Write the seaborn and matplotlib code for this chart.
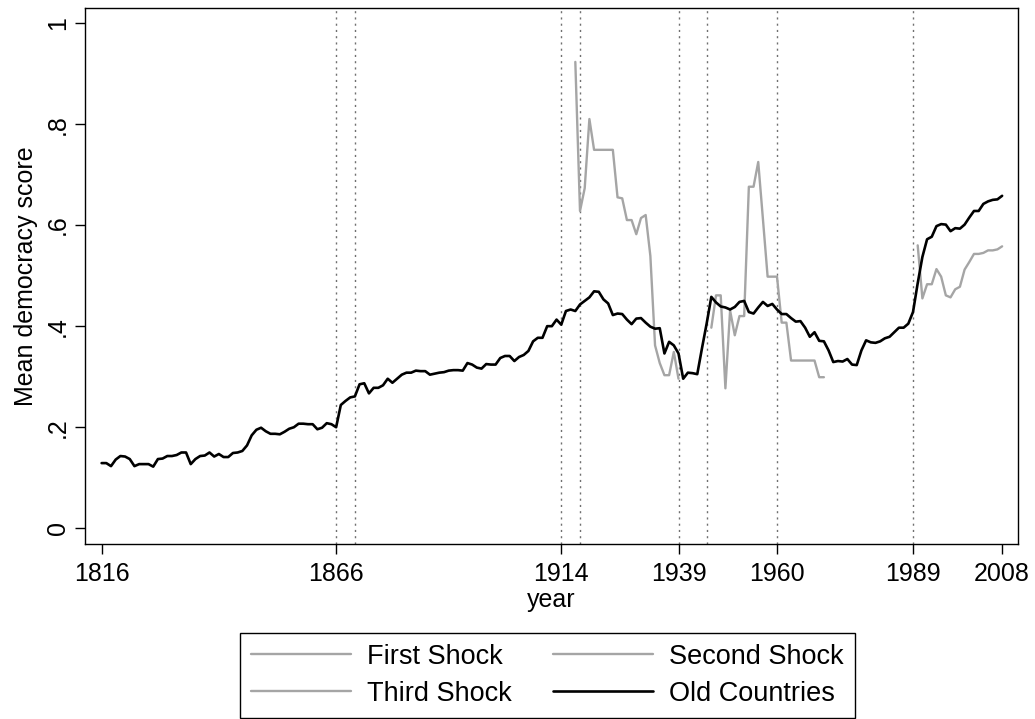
import numpy as np
import pandas as pd
import matplotlib
matplotlib.use("Agg")
import matplotlib.pyplot as plt
import seaborn as sns

# ---------------- data ----------------
old_years = list(range(1816, 2009))
old_values = [
    0.129, 0.129, 0.123, 0.136, 0.143, 0.142, 0.137, 0.123, 0.127, 0.127,  # 1816-1825
    0.127, 0.122, 0.137, 0.138, 0.143, 0.143, 0.145, 0.150, 0.150, 0.127,  # 1826-1835
    0.137, 0.143, 0.144, 0.150, 0.142, 0.147, 0.141, 0.141, 0.149, 0.150,  # 1836-1845
    0.153, 0.164, 0.184, 0.195, 0.199, 0.192, 0.187, 0.187, 0.186, 0.191,  # 1846-1855
    0.197, 0.200, 0.207, 0.207, 0.206, 0.206, 0.196, 0.199, 0.208, 0.206,  # 1856-1865
    0.200, 0.244, 0.252, 0.259, 0.261, 0.285, 0.287, 0.267, 0.278, 0.278,  # 1866-1875
    0.283, 0.296, 0.288, 0.296, 0.304, 0.308, 0.308, 0.312, 0.311, 0.311,  # 1876-1885
    0.304, 0.306, 0.308, 0.309, 0.312, 0.313, 0.313, 0.312, 0.327, 0.324,  # 1886-1895
    0.318, 0.316, 0.325, 0.324, 0.324, 0.337, 0.341, 0.341, 0.331, 0.339,  # 1896-1905
    0.343, 0.351, 0.370, 0.377, 0.377, 0.400, 0.400, 0.413, 0.403, 0.430,  # 1906-1915
    0.433, 0.430, 0.443, 0.450, 0.457, 0.469, 0.468, 0.453, 0.445, 0.422,  # 1916-1925
    0.425, 0.424, 0.413, 0.404, 0.415, 0.416, 0.407, 0.399, 0.395, 0.396,  # 1926-1935
    0.346, 0.369, 0.362, 0.346, 0.296, 0.308, 0.307, 0.305, 0.356, 0.405,  # 1936-1945
    0.458, 0.447, 0.439, 0.437, 0.433, 0.438, 0.448, 0.450, 0.428, 0.425,  # 1946-1955
    0.437, 0.448, 0.440, 0.444, 0.433, 0.424, 0.424, 0.416, 0.409, 0.410,  # 1956-1965
    0.397, 0.379, 0.388, 0.371, 0.370, 0.352, 0.329, 0.331, 0.330, 0.335,  # 1966-1975
    0.324, 0.323, 0.352, 0.372, 0.368, 0.367, 0.370, 0.376, 0.379, 0.388,  # 1976-1985
    0.397, 0.397, 0.405, 0.428, 0.485, 0.537, 0.572, 0.577, 0.598, 0.602,  # 1986-1995
    0.601, 0.588, 0.594, 0.593, 0.601, 0.615, 0.628, 0.628, 0.642, 0.647,  # 1996-2005
    0.650, 0.651, 0.658,                                                   # 2006-2008
]

first_years = list(range(1917, 1940))
first_values = [0.923, 0.628, 0.673, 0.810, 0.749, 0.749, 0.749, 0.749, 0.749,
                0.655, 0.653, 0.610, 0.610, 0.582, 0.614, 0.620, 0.539, 0.362,
                0.327, 0.303, 0.303, 0.349, 0.296]

second_years = list(range(1946, 1971))
second_values = [0.397, 0.461, 0.461, 0.277, 0.431, 0.382, 0.420, 0.420, 0.676,
                 0.676, 0.725, 0.612, 0.498, 0.498, 0.498, 0.407, 0.407, 0.332,
                 0.332, 0.332, 0.332, 0.332, 0.332, 0.299, 0.299]

third_years = list(range(1990, 2009))
third_values = [0.560, 0.455, 0.483, 0.483, 0.513, 0.498, 0.461, 0.457, 0.473,
                0.478, 0.512, 0.527, 0.543, 0.543, 0.545, 0.550, 0.550, 0.552, 0.558]

shock_lines = [1866, 1870, 1914, 1918, 1939, 1945, 1960, 1989]
xtick_years = [1816, 1866, 1914, 1939, 1960, 1989, 2008]
ytick_vals = [0, 0.2, 0.4, 0.6, 0.8, 1.0]
ytick_labels = ["0", ".2", ".4", ".6", ".8", "1"]

# ---------------- style ----------------
sns.set_theme(style="white")
plt.rcParams["font.family"] = ["Liberation Sans", "DejaVu Sans"]
plt.rcParams["text.color"] = "black"
plt.rcParams["axes.labelcolor"] = "black"
plt.rcParams["xtick.color"] = "black"
plt.rcParams["ytick.color"] = "black"

W, H = 1035, 719
fig = plt.figure(figsize=(W / 100, H / 100), dpi=100)
left, right, top, bottom = 84.5, 1018.3, 7.5, 544.3
ax = fig.add_axes([left / W, 1 - bottom / H, (right - left) / W, (bottom - top) / H])

grey = "#a5a5a5"
for x in shock_lines:
    ax.axvline(x, color="#707070", lw=1.0, ls=(0, (1.5, 3.0)), zorder=1)

df_first = pd.DataFrame({"year": first_years, "score": first_values})
df_second = pd.DataFrame({"year": second_years, "score": second_values})
df_third = pd.DataFrame({"year": third_years, "score": third_values})
df_old = pd.DataFrame({"year": old_years, "score": old_values})

sns.lineplot(data=df_first, x="year", y="score", ax=ax, color=grey, lw=1.7, label="First Shock", zorder=2)
sns.lineplot(data=df_second, x="year", y="score", ax=ax, color=grey, lw=1.7, label="Second Shock", zorder=2)
sns.lineplot(data=df_third, x="year", y="score", ax=ax, color=grey, lw=1.7, label="Third Shock", zorder=2)
sns.lineplot(data=df_old, x="year", y="score", ax=ax, color="black", lw=1.9, label="Old Countries", zorder=3)

ax.set_xlim(1812.35, 2011.45)
ax.set_ylim(-0.0317, 1.0307)
ax.set_xticks(xtick_years)
ax.set_xticklabels([str(y) for y in xtick_years], fontsize=18, color="black")
ax.set_yticks(ytick_vals)
ax.set_yticklabels(ytick_labels, fontsize=18, rotation=90, va="center", color="black")
ax.tick_params(axis="both", direction="out", length=7.5, width=1.0, color="black",
               bottom=True, left=True)
ax.tick_params(axis="x", pad=5)
ax.tick_params(axis="y", pad=3)
ax.set_xlabel("year", fontsize=18, labelpad=2, color="black")
ax.set_ylabel("Mean democracy score", fontsize=18, labelpad=6, color="black")
for s in ax.spines.values():
    s.set_visible(True)
    s.set_color("black")
    s.set_linewidth(1.0)

handles, labels = ax.get_legend_handles_labels()
ax.get_legend().remove()
hmap = dict(zip(labels, handles))
order = ["First Shock", "Third Shock", "Second Shock", "Old Countries"]
leg = fig.legend([hmap[k] for k in order], order, ncol=2, loc="upper left",
                 bbox_to_anchor=(240 / W, 1 - 633 / H), fontsize=19.5,
                 frameon=True, fancybox=False, edgecolor="black", framealpha=1,
                 borderpad=0.4, handlelength=3.7, handletextpad=0.6,
                 columnspacing=1.5, labelspacing=0.4, borderaxespad=0)
leg.get_frame().set_linewidth(1.0)
for t in leg.get_texts():
    t.set_color("black")

fig.savefig("out.png", dpi=100)
